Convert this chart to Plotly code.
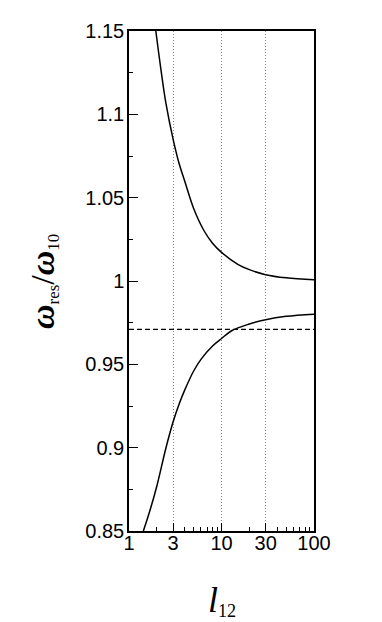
import plotly.graph_objects as go

# curve data
upper_x = [1.95, 2.2, 2.5, 3, 3.5, 4, 5, 6.5, 8, 10, 15, 20, 30, 50, 100]
upper_y = [1.150, 1.128, 1.107, 1.085, 1.070, 1.060, 1.0435, 1.030, 1.0227,
           1.0172, 1.0100, 1.0068, 1.0038, 1.0019, 1.0007]

lower_x = [1.43, 1.7, 2, 2.5, 3, 3.5, 4, 5, 6, 8, 10, 13, 20, 30, 50, 100]
lower_y = [0.850, 0.863, 0.877, 0.8995, 0.9155, 0.9265, 0.9345, 0.946, 0.953,
           0.961, 0.9655, 0.9703, 0.9742, 0.9768, 0.9788, 0.9801]

ref_level = 0.971

x_ticks = [1, 3, 10, 30, 100]
x_minor = [2, 4, 5, 6, 7, 8, 9, 20, 40, 50, 60, 70, 80, 90]
y_ticks = [0.85, 0.9, 0.95, 1.0, 1.05, 1.1, 1.15]
y_labels = ["0.85", "0.9", "0.95", "1", "1.05", "1.1", "1.15"]
y_minor = [0.875, 0.925, 0.975, 1.025, 1.075, 1.125]

_BLACK = "#000000"
_GRID = "#8a8a8a"
_SANS = "Liberation Sans, Arial, sans-serif"
_SERIF = "Liberation Serif, Times New Roman, serif"

fig = go.Figure()
fig.add_trace(go.Scatter(x=upper_x, y=upper_y, mode="lines",
                         line=dict(color=_BLACK, width=1.5, shape="spline", smoothing=1.0)))
fig.add_trace(go.Scatter(x=lower_x, y=lower_y, mode="lines",
                         line=dict(color=_BLACK, width=1.5, shape="spline", smoothing=1.0)))
fig.add_hline(y=ref_level, line=dict(color=_BLACK, width=1.3, dash="5px,3px"))

# page body has an 8px margin, so the figure is 8px smaller and shifted margins
fig.update_layout(
    width=374, height=614,
    paper_bgcolor="white", plot_bgcolor="white",
    margin=dict(l=121, r=68, t=16, b=91),
    showlegend=False,
    font=dict(family=_SANS, size=20, color=_BLACK),
    xaxis=dict(
        type="log", range=[0, 2],
        tickvals=x_ticks, ticktext=[str(v) for v in x_ticks],
        ticks="inside", ticklen=8, tickwidth=1.3, tickcolor=_BLACK,
        ticklabelstandoff=-7,
        minor=dict(tickvals=x_minor, ticks="inside", ticklen=4, tickwidth=1, tickcolor=_BLACK,
                   showgrid=False),
        showline=True, linecolor=_BLACK, linewidth=1.5, mirror=True,
        showgrid=True, gridcolor=_GRID, gridwidth=0.8, griddash="1px,2px",
        zeroline=False,
    ),
    yaxis=dict(
        range=[0.85, 1.15],
        tickvals=y_ticks, ticktext=y_labels,
        ticks="inside", ticklen=9, tickwidth=1.3, tickcolor=_BLACK,
        ticklabelstandoff=-1,
        minor=dict(tickvals=y_minor, ticks="inside", ticklen=4, tickwidth=1, tickcolor=_BLACK,
                   showgrid=False),
        showline=True, linecolor=_BLACK, linewidth=1.5, mirror=True,
        showgrid=False, zeroline=False,
    ),
)

fig.add_annotation(
    text='<span style="font-size:34px"><b><i>ω</i></b></span><sub>res</sub>'
         '<span style="font-size:34px">/<b><i>ω</i></b></span><sub>10</sub>',
    xref="paper", yref="paper", x=-0.465, y=0.5,
    xanchor="center", yanchor="middle", textangle=-90, showarrow=False,
    font=dict(family=_SERIF, size=24, color=_BLACK),
)
fig.add_annotation(
    text='<span style="font-size:36px"><i>l</i></span><sub>12</sub>',
    xref="paper", yref="paper", x=0.5, y=-0.138,
    xanchor="center", yanchor="middle", showarrow=False,
    font=dict(family=_SERIF, size=26, color=_BLACK),
)

fig.write_html("out.html")
